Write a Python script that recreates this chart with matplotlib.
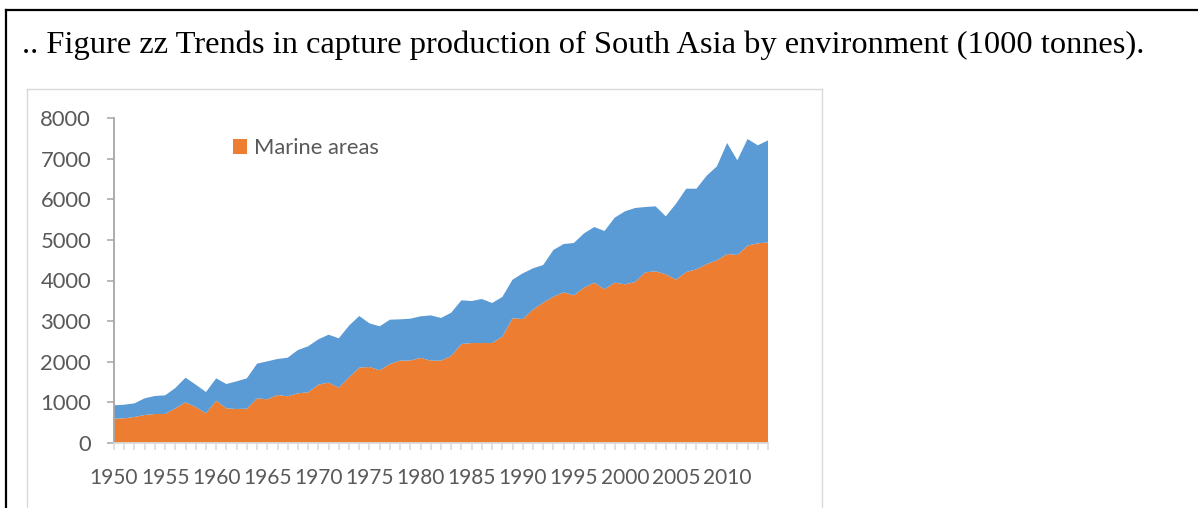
import matplotlib.pyplot as plt
from matplotlib.lines import Line2D
from matplotlib.patches import Patch

# capture production, South Asia, thousand tonnes
years = list(range(1950, 2015))
marine = [599, 607, 640, 689, 714, 714, 853, 1001, 886, 730,
          1042, 853, 837, 845, 1100, 1075, 1182, 1149, 1223, 1247,
          1436, 1485, 1362, 1616, 1854, 1871, 1789, 1945, 2027, 2030,
          2096, 2027, 2027, 2142, 2437, 2461, 2461, 2461, 2617, 3069,
          3052, 3282, 3454, 3602, 3709, 3635, 3824, 3947, 3783, 3947,
          3906, 3963, 4201, 4226, 4152, 4020, 4209, 4275, 4406, 4496,
          4652, 4628, 4857, 4915, 4939]
inland = [328, 336, 336, 411, 443, 459, 501, 607, 550, 525,
          550, 599, 681, 747, 853, 935, 886, 951, 1066, 1133,
          1116, 1182, 1215, 1272, 1272, 1075, 1083, 1091, 1017, 1030,
          1022, 1115, 1050, 1066, 1075, 1034, 1084, 985, 977, 951,
          1124, 1017, 927, 1149, 1189, 1288, 1337, 1370, 1435, 1600,
          1797, 1822, 1608, 1600, 1427, 1871, 2051, 1985, 2174, 2314,
          2733, 2330, 2626, 2412, 2511]
series_names = ['Marine areas', 'Inland waters']
y_ticks = [0, 1000, 2000, 3000, 4000, 5000, 6000, 7000, 8000]
x_labels = [str(y) if y % 5 == 0 else '' for y in years]

title = ('.. Figure zz Trends in capture production of South Asia '
         'by environment (1000 tonnes).')

ORANGE = '#ED7D31'
BLUE = '#5B9BD5'
GREY_TXT = '#595959'
FS = 15.8

W, H = 1198, 508
fig = plt.figure(figsize=(W / 100, H / 100), dpi=100)
fig.patch.set_facecolor('white')


def fx(px):
    return px / W


def fy(py):
    return 1 - py / H


# page frame (top and left rules)
fig.add_artist(Line2D([fx(6), 1], [fy(10), fy(10)], color='black', lw=1.6))
fig.add_artist(Line2D([fx(6), fx(6)], [fy(10), 0], color='black', lw=1.6))

fig.text(fx(22), fy(53), title, family='Liberation Serif', fontsize=23.4,
         color='black', ha='left', va='baseline')

# chart box
box = dict(color='#d9d9d9', lw=1.0)
fig.add_artist(Line2D([fx(27), fx(822)], [fy(89), fy(89)], **box))
fig.add_artist(Line2D([fx(27), fx(27)], [fy(89), 0], **box))
fig.add_artist(Line2D([fx(822), fx(822)], [fy(89), 0], **box))

ax = fig.add_axes([fx(114), fy(443), fx(768) - fx(114), fy(118) - fy(443)])
polys = ax.stackplot(years, marine, inland, colors=[ORANGE, BLUE],
                     labels=series_names, lw=0)

ax.set_xlim(years[0], years[-1])
ax.set_ylim(0, 8000)
ax.set_yticks(y_ticks)
ax.set_xticks(years)
ax.set_xticklabels(x_labels)

for s in ['top', 'right']:
    ax.spines[s].set_visible(False)
ax.spines['left'].set_color('#a6a6a6')
ax.spines['left'].set_linewidth(1.3)
ax.spines['bottom'].set_color('#d9d9d9')
ax.spines['bottom'].set_linewidth(1.3)
ax.set_facecolor('none')

ax.tick_params(axis='y', length=5, width=1.1, color='#a6a6a6', pad=11.5,
               labelsize=FS, labelcolor=GREY_TXT)
ax.tick_params(axis='x', length=5, width=1.1, color='#d9d9d9', pad=13,
               labelsize=15.0, labelcolor=GREY_TXT)
for lab in ax.get_xticklabels() + ax.get_yticklabels():
    lab.set_family('Lato')

handle = Patch(facecolor=ORANGE, edgecolor='none', label=series_names[0])
ax.legend(handles=[handle], loc='center left',
          bbox_to_anchor=(fx(233), fy(148)), bbox_transform=fig.transFigure,
          frameon=False, handlelength=0.65, handleheight=0.65,
          handletextpad=0.3, borderpad=0, borderaxespad=0,
          prop={'family': 'Lato', 'size': FS}, labelcolor=GREY_TXT)

fig.savefig('out.png', dpi=100)
